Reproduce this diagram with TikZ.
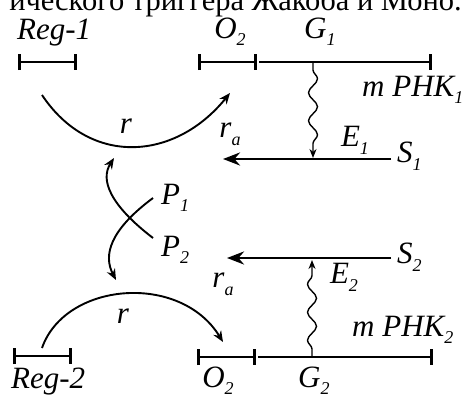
\documentclass[tikz,border=0pt]{standalone}
\usepackage{fontspec}
\setmainfont{Liberation Serif}
\usepackage{tikz}
\usetikzlibrary{arrows.meta,decorations.pathmorphing}
\newcommand{\gsub}[1]{\raisebox{-0.25em}{\fontsize{18}{18}\selectfont #1}}

\begin{document}
\begin{tikzpicture}[x=1pt, y=-1pt, every node/.style={font=\fontsize{31}{33}\selectfont\itshape, inner sep=0pt}]
  \useasboundingbox (0,0) rectangle (468,399);
  \tikzset{
    gene/.style={line width=2.8pt, {Bar[width=16pt]}-{Bar[width=16pt]}},
    curve/.style={line width=1.9pt, -{Stealth[length=11pt,width=9pt]}},
    flux/.style={line width=2.8pt, -{Stealth[length=17pt,width=13pt]}},
    wave/.style={line width=1.4pt, -{Stealth[length=9pt,width=7pt]},
      decorate, decoration={snake, amplitude=4.5pt, segment length=28pt, pre length=8pt, post length=12pt}}
  }
  % Caption (cut by the frame)
  \node[font=\fontsize{30.5}{31}\selectfont, anchor=base east] (cap) at (462,10) {ического триггера Жакоба и Моно.};
  % Upper operon
  \coordinate (reg1a) at (18,62);  \coordinate (reg1b) at (77,62);
  \coordinate (o1a) at (198,62);   \coordinate (o1b) at (257,62);  \coordinate (g1b) at (432,62);
  \coordinate (w1) at (313,62);
  \draw[gene] (reg1a) -- (reg1b);
  \draw[gene] (o1a) -- (o1b);
  \draw[gene, {Bar[width=0pt]}-{Bar[width=16pt]}] (o1b) -- (g1b);
  \node[anchor=base west] (reg1) at (17,39) {Reg-1};
  \node[anchor=base] (op1) at (230,38) {O\gsub{2}};
  \node[anchor=base west] (gn1) at (304,38) {G\gsub{1}};
  \node[anchor=base west] (m1) at (362,96) {m PHK\gsub{1}};
  % Lower operon
  \coordinate (reg2a) at (13,356); \coordinate (reg2b) at (72,356);
  \coordinate (o2a) at (197,357);  \coordinate (o2b) at (256,357); \coordinate (g2b) at (433,357);
  \coordinate (w2) at (312,357);
  \draw[gene] (reg2a) -- (reg2b);
  \draw[gene] (o2a) -- (o2b);
  \draw[gene, {Bar[width=0pt]}-{Bar[width=16pt]}] (o2b) -- (g2b);
  \node[anchor=base west] (reg2) at (11,388) {Reg-2};
  \node[anchor=base] (op2) at (218,387) {O\gsub{2}};
  \node[anchor=base west] (gn2) at (298,387) {G\gsub{2}};
  \node[anchor=base west] (m2) at (352,336) {m PHK\gsub{2}};
  % Repressor arcs
  \coordinate (a1s) at (42,95);  \coordinate (a1e) at (230,93);
  \coordinate (a2s) at (42,348); \coordinate (a2e) at (223,342);
  \draw[curve] (a1s) .. controls (90,167) and (175,161) .. (a1e);
  \draw[curve] (a2s) .. controls (65,282) and (180,272) .. (a2e);
  \node (r1) at (126,126) {r};
  \node (r2) at (123,316) {r};
  \node (ra1) at (230,134) {r\gsub{a}};
  \node (ra2) at (223,284) {r\gsub{a}};
  % Substrates and enzymes
  \node[anchor=west] (s1) at (397,156) {S\gsub{1}};
  \node[anchor=west] (s2) at (397,257) {S\gsub{2}};
  \coordinate (f1) at (223,159); \coordinate (f2) at (227,258);
  \coordinate (h1) at (391,159); \coordinate (h2) at (391,258);
  \draw[flux] (h1) -- (f1);
  \draw[flux] (h2) -- (f2);
  \coordinate (e1t) at (313,158); \coordinate (e2t) at (312,260);
  \draw[wave] (w1) -- (e1t);
  \draw[wave] (w2) -- (e2t);
  \node (e1) at (355,140) {E\gsub{1}};
  \node (e2) at (344,277) {E\gsub{2}};
  % Cross-regulation
  \node[anchor=base west] (p1) at (161,204) {P\gsub{1}};
  \node[anchor=base west] (p2) at (161,256) {P\gsub{2}};
  \coordinate (p1e) at (153,198); \coordinate (p2e) at (153,238);
  \coordinate (t1) at (114,158); \coordinate (t2) at (116,280);
  \draw[curve] (p2e) .. controls (110,205) and (100,180) .. (t1);
  \draw[curve] (p1e) .. controls (110,230) and (103,255) .. (t2);
\end{tikzpicture}
\end{document}
